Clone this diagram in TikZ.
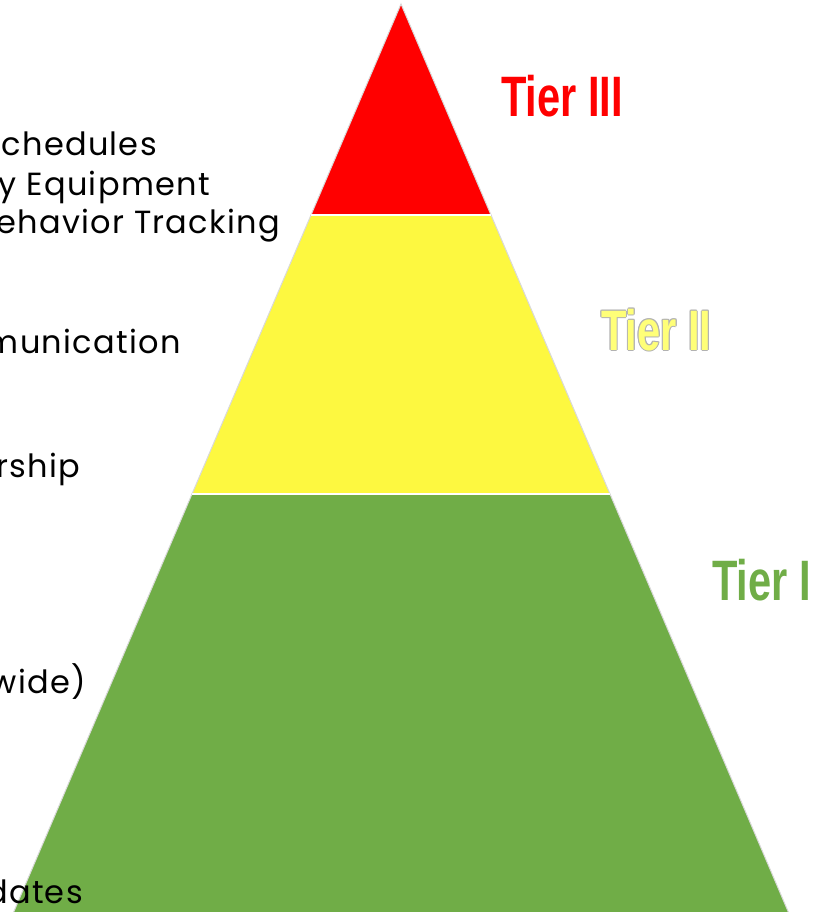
\documentclass[tikz,border=0pt]{standalone}
\usepackage{fontspec}
\setmainfont[LetterSpace=4]{Poppins}
\newfontfamily\tierfont[FakeStretch=0.73]{Liberation Sans}
\usetikzlibrary{positioning}

\definecolor{tierred}{RGB}{255,0,0}
\definecolor{tieryellow}{RGB}{253,248,64}
\definecolor{tiergreen}{RGB}{112,173,71}
\definecolor{labelyellow}{RGB}{255,255,120}

\begin{document}
\begin{tikzpicture}[x=1pt,y=-1pt,
        tier/.style={draw=white!85!black,line width=1pt},
        split/.style={draw=white,line width=2pt},
        tierlabel/.style={font=\tierfont\bfseries\fontsize{57}{57}\selectfont,inner sep=0pt,anchor=base west},
        item/.style={font=\fontsize{32}{32}\selectfont,inner sep=0pt,anchor=base east,text=black}
    ]
    \useasboundingbox (0,0) rectangle (819,912);
    \clip (0,0) rectangle (819,912);

    % Pyramid corners
    \coordinate (apex) at (401,4);
    \coordinate (t3l) at (311,215);
    \coordinate (t3r) at (491,215);
    \coordinate (t2l) at (192,494);
    \coordinate (t2r) at (610,494);
    \coordinate (t1l) at (6,930);
    \coordinate (t1r) at (796,930);

    % Tiers
    \filldraw[tier,fill=tiergreen] (t2l) -- (t2r) -- (t1r) -- (t1l) -- cycle;
    \filldraw[tier,fill=tieryellow] (t3l) -- (t3r) -- (t2r) -- (t2l) -- cycle;
    \filldraw[tier,fill=tierred] (apex) -- (t3r) -- (t3l) -- cycle;
    \draw[split] (t3l) -- (t3r);
    \draw[split] (t2l) -- (t2r);

    % Tier labels
    \node[tierlabel,text=tierred] (tier3) at (501,117) {Tier III};
    \foreach \dx/\dy in {1/0,-1/0,0/1,0/-1,0.7/0.7,-0.7/0.7,0.7/-0.7,-0.7/-0.7}
        \node[tierlabel,text=black!30] at (601+\dx,350+\dy) {Tier II};
    \node[tierlabel,text=labelyellow] (tier2) at (601,350) {Tier II};
    \node[tierlabel,text=tiergreen] (tier1) at (712,600) {Tier I};

    % Items (cut at the left edge)
    \node[item] (sched) at (157,156) {chedules};
    \node[item] (equip) at (210,196) {y Equipment};
    \node[item] (track) at (280,233) {ehavior Tracking};
    \node[item] (comm) at (181,353) {munication};
    \node[item] (lead) at (80,477) {rship};
    \node[item] (wide) at (86,693) {wide)};
    \node[item] (upd) at (83,903) {dates};
\end{tikzpicture}
\end{document}
